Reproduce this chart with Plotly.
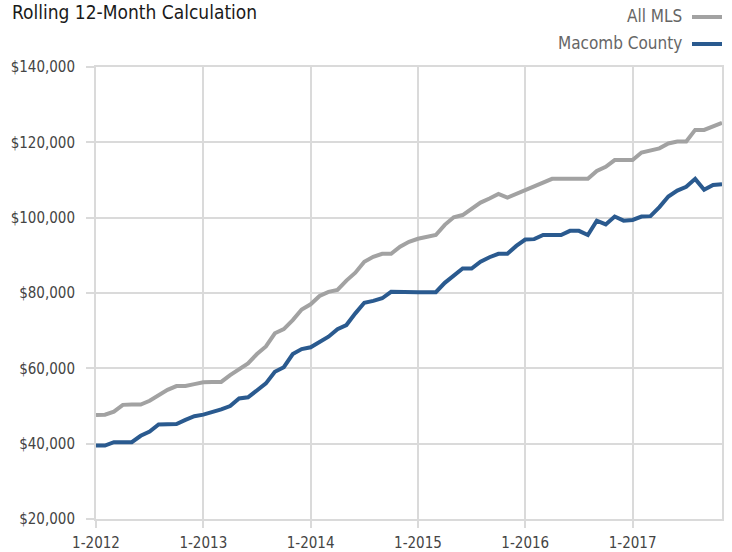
import plotly.graph_objects as go

years = [2012, 2013, 2014, 2015, 2016, 2017]
months = [f"{m}-{y}" for y in years for m in range(1, 13)][:71]
tick_labels = [f"1-{y}" for y in years]

all_mls = [
    47.6, 47.7, 48.5, 50.3, 50.4, 50.4, 51.4, 52.9, 54.3, 55.3, 55.3, 55.8,
    56.3, 56.4, 56.4, 58.2, 59.7, 61.3, 63.8, 65.8, 69.3, 70.4, 72.8, 75.6,
    77.0, 79.2, 80.3, 80.8, 83.3, 85.4, 88.3, 89.6, 90.4, 90.4, 92.3, 93.6,
    94.4, 95.0, 95.4, 98.1, 100.1, 100.7, 102.5, 104.0, 105.1, 106.3, 105.3, 106.3,
    107.3, 108.2, 109.4, 110.3, 110.3, 110.3, 110.3, 110.3, 112.4, 113.5, 115.3, 115.3,
    115.3, 117.3, 117.8, 118.4, 119.7, 120.2, 120.2, 123.3, 123.3, 124.2, 125.2,
]
macomb = [
    39.5, 39.5, 40.4, 40.4, 40.4, 42.1, 43.2, 45.1, 45.2, 45.2, 46.3, 47.3,
    47.7, 48.3, 49.1, 50.0, 52.0, 52.3, 54.0, 56.0, 59.1, 60.3, 63.8, 65.1,
    65.6, 67.1, 68.4, 70.4, 71.5, 74.6, 77.4, 77.9, 78.6, 80.3, 80.2, 80.2,
    80.2, 80.2, 80.2, 82.7, 84.5, 86.5, 86.5, 88.3, 89.5, 90.4, 90.4, 92.5,
    94.2, 94.3, 95.4, 95.4, 95.4, 96.5, 96.5, 95.4, 99.2, 98.2, 100.3, 99.2,
    99.4, 100.3, 100.4, 102.8, 105.6, 107.2, 108.2, 110.3, 107.4, 108.7, 108.9,
]
all_mls = [v * 1000 for v in all_mls]
macomb = [v * 1000 for v in macomb]

GRAY = "#a2a2a2"
BLUE = "#2a5a8f"
GRID = "#dadada"
FONT = "DejaVu Sans Condensed, Liberation Sans Narrow, Arial Narrow, sans-serif"

fig = go.Figure()
fig.add_trace(go.Scatter(x=months, y=all_mls, mode="lines", name="All MLS",
                         line=dict(color=GRAY, width=4), showlegend=False))
fig.add_trace(go.Scatter(x=months, y=macomb, mode="lines", name="Macomb County",
                         line=dict(color=BLUE, width=4), showlegend=False))

W, H = 732, 552
L, R, T, B = 96, 10, 67, 33
pw, ph = W - L - R, H - T - B

def px(x):
    return (x - L) / pw

def py(y):
    return (H - B - y) / ph

legend_items = [("All MLS", GRAY, 16), ("Macomb County", BLUE, 43)]
for name, col, yy in legend_items:
    fig.add_annotation(xref="paper", yref="paper", x=px(684), y=py(yy),
                       text=name, showarrow=False, xanchor="right", yanchor="middle",
                       font=dict(family=FONT, size=17, color="#666666"))
    fig.add_shape(type="line", xref="paper", yref="paper",
                  x0=px(692), x1=px(722), y0=py(yy + 1), y1=py(yy + 1),
                  line=dict(color=col, width=4))

fig.update_layout(
    width=W, height=H,
    margin=dict(l=L, r=R, t=T, b=B),
    paper_bgcolor="white", plot_bgcolor="white",
    font=dict(family=FONT, size=15, color="#444444"),
    title=dict(text="Rolling 12-Month Calculation", x=12 / W, xanchor="left",
               y=1 - 12 / H, yanchor="middle",
               font=dict(family=FONT, size=19, color="#1a1a1a")),
    xaxis=dict(type="category", range=[0, 70], tickmode="array",
               tickvals=tick_labels, ticktext=tick_labels, automargin=False,
               showgrid=True, gridcolor=GRID, gridwidth=2,
               ticks="outside", ticklen=7, tickcolor=GRID, tickwidth=2,
               ticklabelstandoff=2,
               showline=True, linecolor=GRID, linewidth=2, mirror=True,
               zeroline=False, tickfont=dict(size=15, color="#444444")),
    yaxis=dict(range=[20000, 140000], dtick=20000, tickprefix="$", tickformat=",.0f",
               automargin=False,
               showgrid=True, gridcolor=GRID, gridwidth=2,
               ticks="outside", ticklen=8, tickcolor=GRID, tickwidth=2,
               ticklabelstandoff=8,
               showline=True, linecolor=GRID, linewidth=2, mirror=True,
               zeroline=False, tickfont=dict(size=15, color="#444444")),
)

fig.write_html("out.html", config={"displayModeBar": False},
               post_script="document.body.style.margin='0';document.body.style.overflow='hidden';")
